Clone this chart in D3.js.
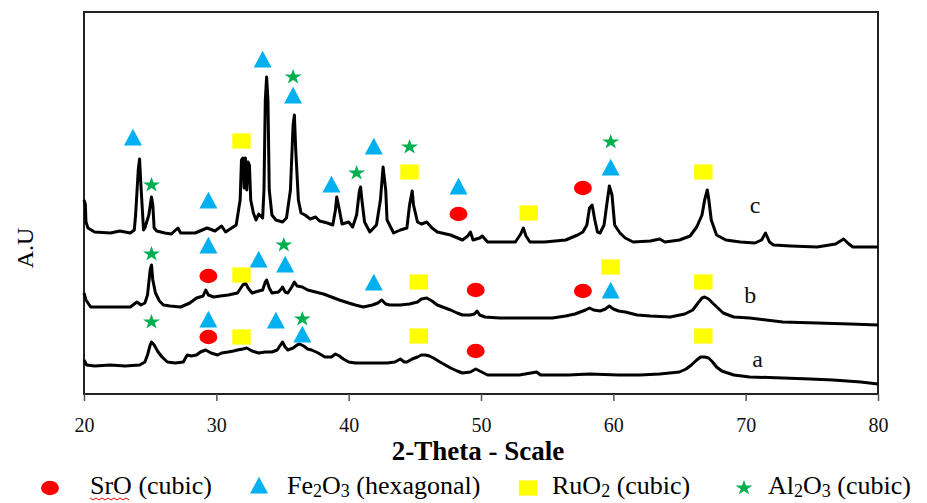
<!DOCTYPE html>
<meta charset="utf-8">
<script src="https://d3js.org/d3.v7.min.js"></script>
<style>
body { margin: 0; background: #fff; }
svg { display: block; }
svg text { font-family: "Liberation Serif", "Times New Roman", serif; }
</style>
<div id="chart"></div>
<script>

const width = 927,
      height = 503,
      margin = {top: 12, right: 49, bottom: 109, left: 84};

// 2-theta (deg), intensity (A.U.)
const traceA = [[20.0,34],[20.2,29],[20.8,28],[22.0,29],[23.1,28],[24.2,29],[24.6,32],[24.8,39],[25.0,49],[25.1,52],[25.3,49],[25.6,42],[25.9,37],[26.3,32],[26.9,31],[27.5,32],[27.8,39],[28.1,38],[28.5,39],[28.8,42],[29.2,44],[29.6,41],[30.1,39],[30.4,41],[30.9,42],[31.3,43],[31.6,44],[32.0,45],[32.3,46],[32.7,43],[33.2,41],[33.7,42],[34.2,42],[34.6,44],[34.9,50],[35.0,52],[35.2,47],[35.4,44],[35.8,46],[36.1,49],[36.3,50],[36.6,48],[36.9,45],[37.2,44],[37.7,41],[38.2,37],[38.7,37],[39.0,40],[39.3,38],[39.6,35],[40.0,32],[40.5,31],[41.6,31],[42.9,31],[43.5,32],[43.9,35],[44.2,32],[44.4,32],[44.8,35],[45.2,37],[45.5,39],[45.8,39],[46.1,38],[46.4,36],[46.9,32],[47.7,26],[48.2,23],[48.6,21],[49.2,22],[49.6,25],[49.9,23],[50.5,19],[51.4,19],[52.9,19],[54.2,22],[54.5,19],[56.6,19],[58.2,20],[60.4,19],[62.0,19],[63.5,20],[65.0,22],[65.5,25],[65.9,29],[66.3,34],[66.6,37],[66.9,37],[67.2,36],[67.5,32],[67.8,27],[68.2,23],[69.1,19],[70.3,17],[72.8,16],[74.9,15],[76.6,14],[78.7,12],[80.0,10]];

const traceB = [[20.0,101],[20.15,94],[20.5,87],[22.0,87],[23.5,87],[24.0,92],[24.3,89],[24.6,91],[24.8,99],[25.0,124],[25.1,129],[25.2,114],[25.4,101],[25.7,93],[26.0,89],[26.5,88],[27.3,87],[28.0,91],[28.5,96],[29.0,98],[29.2,104],[29.4,99],[29.8,97],[30.3,98],[30.9,99],[31.6,101],[32.0,109],[32.2,111],[32.4,106],[32.7,101],[33.2,103],[33.5,104],[33.7,112],[33.8,114],[34.0,106],[34.2,101],[34.7,102],[34.9,105],[35.0,107],[35.2,102],[35.4,101],[35.7,107],[35.9,112],[36.1,108],[36.5,107],[36.9,104],[37.5,102],[38.1,100],[38.7,97],[39.3,94],[40.0,91],[40.5,89],[41.1,87],[41.8,89],[42.2,91],[42.5,94],[42.8,90],[43.1,89],[43.9,89],[44.6,90],[45.2,92],[45.5,95],[45.9,96],[46.3,93],[46.7,89],[47.3,86],[47.7,84],[48.2,81],[48.6,79],[49.2,79],[49.5,80],[49.7,83],[49.9,79],[50.3,77],[51.4,76],[52.8,76],[54.1,76],[55.4,76],[56.4,78],[57.1,80],[57.9,84],[58.2,86],[58.5,84],[59.0,83],[59.4,85],[59.7,88],[60.0,85],[60.4,83],[60.9,82],[61.8,79],[62.8,78],[64.3,77],[65.4,80],[66.0,84],[66.4,91],[66.7,96],[66.9,97],[67.2,95],[67.5,91],[67.9,86],[68.3,81],[69.1,77],[70.3,76],[72.8,72],[75.4,71],[77.9,70],[80.0,69]];

const traceC = [[20.0,194],[20.1,190],[20.15,172],[20.3,166],[20.8,162],[22.0,161],[22.7,163],[23.5,161],[23.8,164],[23.9,179],[24.1,224],[24.2,235],[24.3,209],[24.5,164],[24.6,166],[24.9,179],[25.1,197],[25.2,189],[25.3,166],[25.5,163],[26.1,161],[26.6,160],[27.1,166],[27.3,161],[28.4,161],[29.3,166],[29.9,163],[30.4,168],[30.7,162],[31.5,169],[31.8,194],[31.9,234],[32.0,236],[32.1,206],[32.2,236],[32.3,204],[32.4,232],[32.5,229],[32.6,194],[32.8,181],[33.0,174],[33.2,180],[33.5,176],[33.6,204],[33.7,294],[33.8,317],[33.9,294],[34.0,204],[34.2,179],[34.5,174],[35.0,172],[35.3,176],[35.6,204],[35.8,269],[35.9,279],[36.0,244],[36.2,194],[36.4,181],[36.7,179],[37.1,175],[37.5,177],[37.8,173],[38.4,171],[38.8,169],[39.0,184],[39.1,197],[39.3,184],[39.5,170],[40.0,172],[40.3,167],[40.6,179],[40.8,202],[40.9,207],[41.0,194],[41.2,172],[41.6,162],[42.1,169],[42.4,194],[42.6,227],[42.8,204],[42.9,174],[43.4,161],[43.9,164],[44.4,166],[44.6,189],[44.8,203],[44.9,189],[45.2,172],[45.5,170],[45.9,172],[46.3,166],[46.7,162],[47.7,159],[48.6,154],[49.0,158],[49.2,162],[49.4,154],[49.9,156],[50.1,158],[50.5,152],[51.4,152],[52.6,152],[53.0,160],[53.2,166],[53.4,158],[53.7,152],[54.8,152],[56.4,154],[57.3,159],[57.7,162],[58.0,169],[58.2,186],[58.4,189],[58.6,174],[58.8,162],[59.0,161],[59.3,169],[59.5,189],[59.7,208],[59.9,199],[60.1,169],[60.5,161],[60.9,156],[61.5,152],[62.8,153],[63.5,155],[63.9,152],[65.0,154],[65.8,158],[66.3,167],[66.7,179],[66.9,194],[67.1,204],[67.2,196],[67.4,174],[67.8,159],[68.5,154],[69.6,152],[70.7,151],[71.2,154],[71.5,161],[71.8,152],[72.1,149],[73.4,148],[75.4,147],[76.8,150],[77.4,155],[77.8,150],[78.1,147],[79.0,147],[80.0,147]];

const traceNames = ['a', 'b', 'c'];
const traceLabels = [[70.5, 27], [69.9, 91], [70.3, 181]];

// phase markers: 2-theta, level (A.U.)
const srO = [[29.4,118],[29.4,57],[49.6,104],[49.6,43],[57.7,206],[57.7,103],[48.3,180]];
const fe2o3 = [[23.7,254],[29.4,191],[33.5,332],[35.8,296],[38.7,207],[41.9,245],[48.3,205],[59.8,224],
               [29.4,146],[33.2,132],[35.2,127],[41.9,109],[59.8,101],
               [29.4,72],[34.5,71],[36.5,57]];
const ruO2 = [[31.9,253],[44.6,222],[53.6,181],[66.8,222],
              [31.9,119],[45.3,112],[59.8,127],[66.8,112],
              [31.9,57],[45.3,58],[66.8,58]];
const al2o3 = [[25.1,209],[35.8,317],[40.6,221],[44.6,247],[59.8,252],
               [25.1,140],[35.1,149],
               [25.1,72],[36.5,75]];

const xTicks = [20, 30, 40, 50, 60, 70, 80];
const legendNames = [['SrO', ' (cubic)'], ['Fe', '2', 'O', '3', ' (hexagonal)'], ['RuO', '2', ' (cubic)'], ['Al', '2', 'O', '3', ' (cubic)']];

const phases = [
	{data: srO, color: '#ff0000', type: d3.symbolCircle, size: 177, sx: 1.2, sy: 0.95},
	{data: fe2o3, color: '#00b0f0', type: d3.symbolTriangle, size: 140, sx: 1, sy: 1.08},
	{data: ruO2, color: '#ffff00', type: d3.symbolSquare, size: 256, sx: 1.15, sy: 0.95},
	{data: al2o3, color: '#00b050', type: d3.symbolStar, size: 82, sx: 1.05, sy: 0.95},
];

const svg = d3.select('#chart').append('svg')
	.attr('width', width)
	.attr('height', height);

const x = d3.scaleLinear().domain([20, 80]).range([margin.left, width - margin.right]);
const y = d3.scaleLinear().domain([0, 382]).range([height - margin.bottom, margin.top]);

// frame
svg.append('rect')
	.attr('x', x(20)).attr('y', y(382))
	.attr('width', x(80) - x(20)).attr('height', y(0) - y(382))
	.attr('fill', 'none').attr('stroke', '#222').attr('stroke-width', 2);

const xAxis = svg.append('g')
	.attr('transform', `translate(0,${y(0)})`)
	.call(d3.axisBottom(x).tickValues(xTicks).tickSize(7).tickPadding(17).tickFormat(d3.format('d')))
	.attr('font-family', null)
	.attr('font-size', null);
xAxis.select('.domain').remove();
xAxis.selectAll('line').attr('stroke', '#555').attr('stroke-width', 1.5);
xAxis.selectAll('text')
	.attr('font-size', 20).attr('fill', '#111');

svg.append('text')
	.attr('x', 478).attr('y', 460)
	.attr('text-anchor', 'middle')
	.attr('font-size', 27).attr('font-weight', 'bold')
	.text('2-Theta - Scale');

svg.append('text')
	.attr('transform', 'translate(33,248) rotate(-90)')
	.attr('text-anchor', 'middle')
	.attr('font-size', 24)
	.text('A.U');

const line = d3.line().x(d => x(d[0])).y(d => y(d[1]));

svg.append('g')
	.selectAll('path')
	.data([traceA, traceB, traceC])
	.join('path')
	.attr('d', line)
	.attr('fill', 'none')
	.attr('stroke', '#000')
	.attr('stroke-width', 3)
	.attr('stroke-linejoin', 'round');

svg.append('g')
	.selectAll('text')
	.data(traceNames)
	.join('text')
	.attr('x', (d, i) => x(traceLabels[i][0]))
	.attr('y', (d, i) => y(traceLabels[i][1]))
	.attr('font-size', 24)
	.attr('fill', '#111')
	.text(d => d);

function marker(sel, p) {
	sel.attr('d', d3.symbol(p.type, p.size))
		.attr('fill', p.color);
}

phases.forEach(p => {
	svg.append('g')
		.selectAll('path')
		.data(p.data)
		.join('path')
		.call(marker, p)
		.attr('transform', d => `translate(${x(d[0])},${y(d[1])}) scale(${p.sx},${p.sy})`);
});

// legend
const legendX = [50, 259, 528, 744];
const legendTextX = [90, 287, 552, 768];
const legend = svg.append('g');
phases.forEach((p, i) => {
	legend.append('path')
		.call(marker, p)
		.attr('transform', `translate(${legendX[i]},488) scale(${p.sx},${p.sy})`);
	const t = legend.append('text')
		.attr('x', legendTextX[i]).attr('y', 494)
		.attr('font-size', 26);
	legendNames[i].forEach((s, j) => {
		const sub = /^[0-9]$/.test(s);
		t.append('tspan')
			.attr('font-size', sub ? 18 : 26)
			.attr('dy', sub ? 3 : (j > 0 && /^[0-9]$/.test(legendNames[i][j - 1]) ? -3 : 0))
			.text(s);
	});
});

// red wavy underline under SrO
const srw = legend.select('text').select('tspan').node().getComputedTextLength();
const wave = d3.range(0, Math.floor(srw / 3) + 1).map(k => [90 + k * 3, 498 + (k % 2 ? 2 : 0)]);
legend.append('path')
	.attr('d', d3.line()(wave))
	.attr('fill', 'none').attr('stroke', '#e00').attr('stroke-width', 1);

</script>
